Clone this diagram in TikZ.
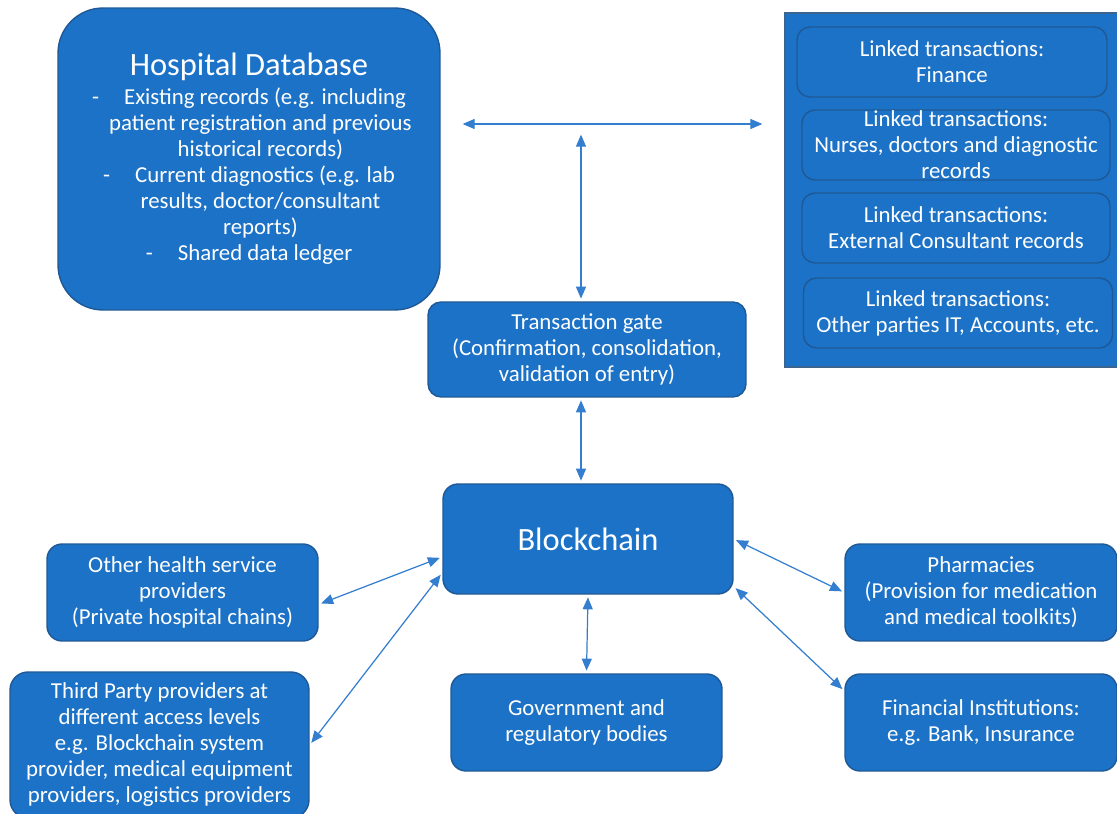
\documentclass[tikz,border=0pt]{standalone}
\usepackage{fontspec}
\setmainfont{Carlito}
\usetikzlibrary{arrows.meta}

\definecolor{boxblue}{RGB}{28,114,198}
\definecolor{boxedge}{RGB}{30,88,150}
\definecolor{linkblue}{RGB}{52,126,208}

\tikzset{
  box/.style={rounded corners=0.26cm,fill=boxblue,draw=boxedge,line width=0.8pt,
    text=white,align=center,inner sep=0pt,font=\fontsize{13}{14.8}\selectfont},
  link/.style={draw=linkblue,line width=0.7pt,
    {Triangle[length=0.24cm,width=0.2cm]}-{Triangle[length=0.24cm,width=0.2cm]},
    shorten <=1.5pt,shorten >=1.5pt}
}

\begin{document}
\begin{tikzpicture}[x=0.02cm,y=-0.02cm]
   \useasboundingbox[fill=white] (0,0) rectangle (1117,814);
   \begin{scope}
    \node[box,rounded corners=0.9cm,minimum width=7.64cm,minimum height=6.04cm] (hdb) at (249,159)
      {{\fontsize{18.5}{22}\selectfont Hospital Database}\\[1.5pt]
       -\hspace{1.1em}Existing records (e.g. including\\
       \hspace{1em}patient registration and previous\\
       \hspace{1em}historical records)\\
       -\hspace{1.1em}Current diagnostics (e.g. lab\\
       \hspace{1em}results, doctor/consultant\\
       \hspace{1em}reports)\\
       -\hspace{1.1em}Shared data ledger};
    \node[box,rounded corners=0pt,draw=boxedge!70!gray,minimum width=6.68cm,minimum height=7.08cm] (panel) at (952,190) {};
    \node[box,minimum width=6.2cm,minimum height=1.4cm] (ltfin) at (952,62) {Linked transactions:\\Finance};
    \node[box,minimum width=6.16cm,minimum height=1.4cm] (ltmed) at (956,145) {Linked transactions:\\Nurses, doctors and diagnostic\\records};
    \node[box,minimum width=6.16cm,minimum height=1.4cm] (ltext) at (956,228) {Linked transactions:\\External Consultant records};
    \node[box,minimum width=6.18cm,minimum height=1.4cm] (ltoth) at (958,313) {Linked transactions:\\Other parties IT, Accounts, etc.};
    \node[box,minimum width=6.36cm,minimum height=1.9cm] (gate) at (587,349.5) {Transaction gate\\(Confirmation, consolidation,\\validation of entry)};
    \node[box,rounded corners=0.3cm,minimum width=5.8cm,minimum height=2.2cm,font=\fontsize{18.5}{22}\selectfont] (blk) at (588,539) {Blockchain};
    \node[box,rounded corners=0.3cm,minimum width=5.42cm,minimum height=1.94cm] (oth) at (182.5,592.5) {Other health service\\providers\\(Private hospital chains)};
    \node[box,rounded corners=0.36cm,minimum width=5.98cm,minimum height=2.92cm] (thp) at (159.5,745) {Third Party providers at\\different access levels\\e.g. Blockchain system\\provider, medical equipment\\providers, logistics providers};
    \node[box,rounded corners=0.3cm,minimum width=5.42cm,minimum height=1.94cm] (gov) at (586.5,722.5) {Government and\\regulatory bodies};
    \node[box,rounded corners=0.3cm,minimum width=5.44cm,minimum height=1.94cm] (pha) at (981,592.5) {Pharmacies\\(Provision for medication\\and medical toolkits)};
    \node[box,rounded corners=0.3cm,minimum width=5.44cm,minimum height=1.94cm] (fin) at (981,722.5) {Financial Institutions:\\e.g. Bank, Insurance};
   \end{scope}
   % free ends of the two upper arrows
   \coordinate (hleft) at (460,124);
   \coordinate (hright) at (765,124);
   \coordinate (vtop) at (581,132);
   \begin{scope}[every path/.style={link}]
    \draw (hleft) -- (hleft -| hright);
    \draw (vtop) -- (vtop |- gate.north);
    \draw ([xshift=-0.12cm]gate.south) -- ([xshift=-0.12cm]gate.south |- blk.north);
    \draw (blk.187) -- (oth.-5);
    \draw (blk.193) -- (thp.east);
    \draw (blk.east) -- (pha.west);
    \draw (blk.-18) -- (fin.167);
    \draw (blk.south) -- (gov.north);
   \end{scope}
\end{tikzpicture}
\end{document}
